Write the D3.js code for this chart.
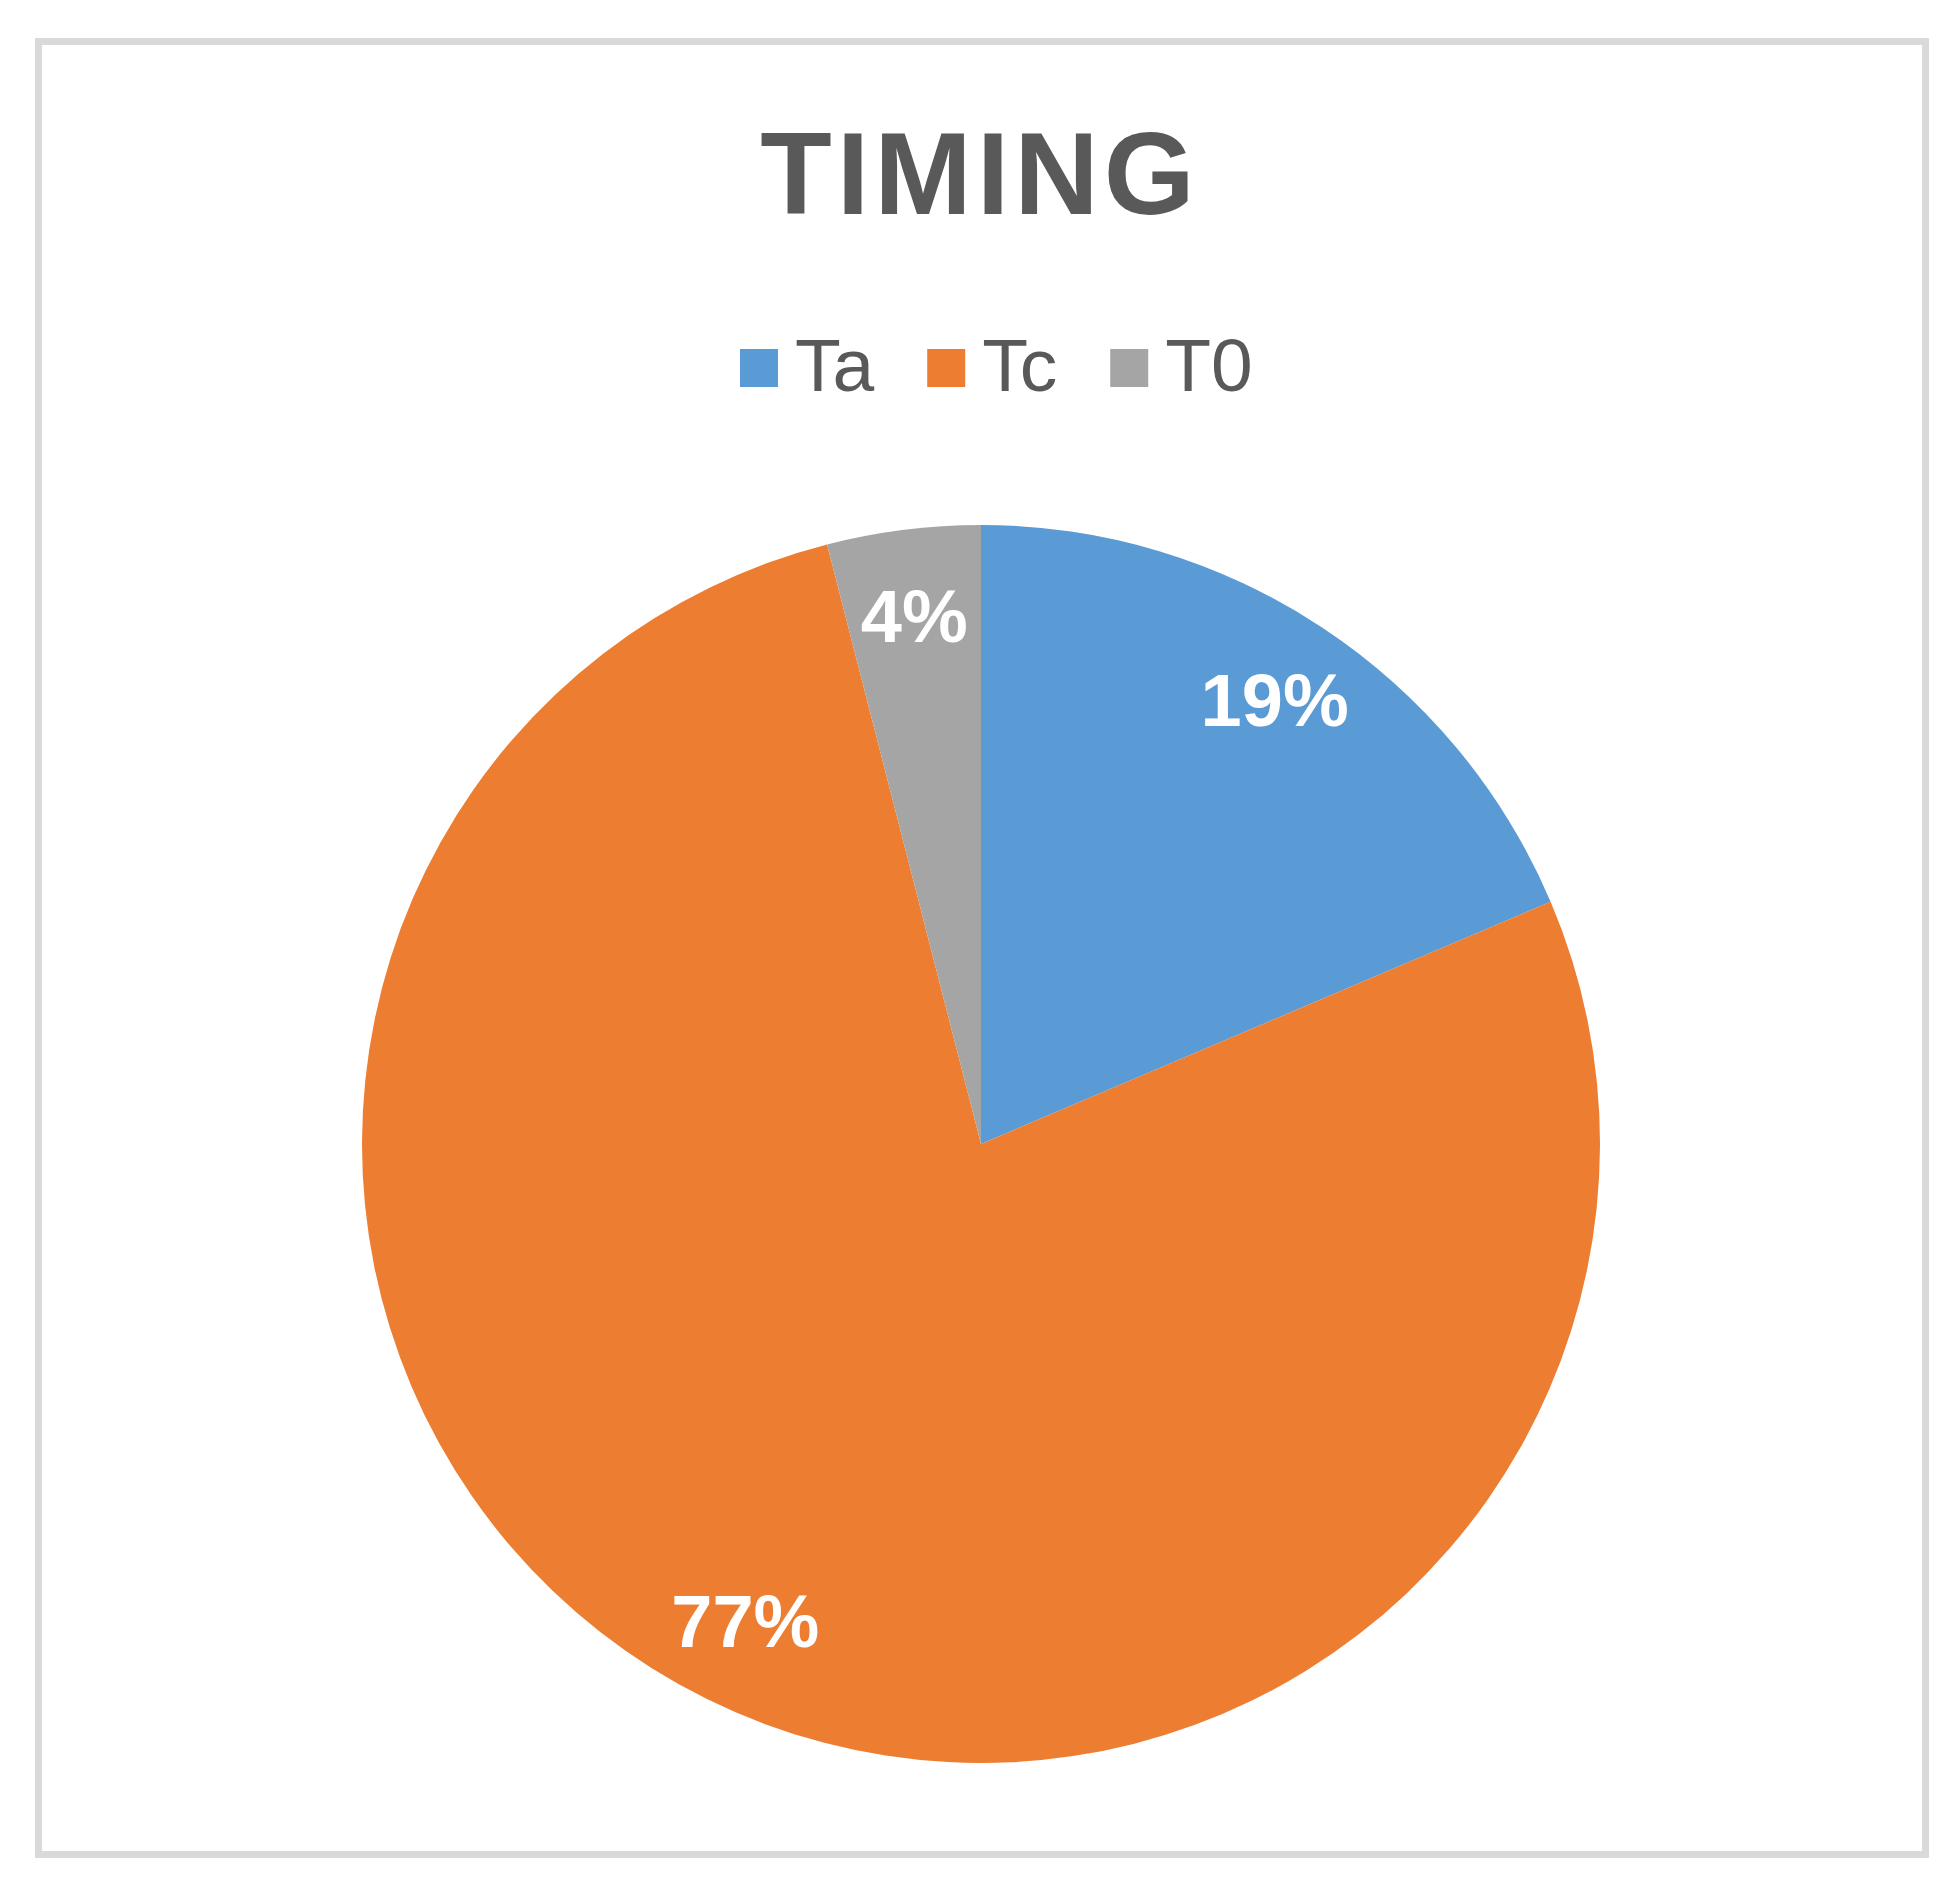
<!DOCTYPE html>
<html>
<head>
<meta charset="utf-8">
<script src="https://cdn.jsdelivr.net/npm/d3@7"></script>
<style>
  html, body { margin: 0; padding: 0; background: #ffffff; }
  svg { display: block; }
</style>
</head>
<body>
<svg id="chart" width="1960" height="1898"></svg>
<script>
const title = "TIMING";
const categories = ["Ta", "Tc", "T0"];
const values = [18.6, 77.4, 4.0];
const colors = ["#5B9BD5", "#ED7D31", "#A5A5A5"];

const W = 1960, H = 1898;
const svg = d3.select("#chart");
const font = "'Liberation Sans', Arial, Helvetica, sans-serif";

// outer frame
svg.append("rect")
  .attr("x", 38.5).attr("y", 41.5)
  .attr("width", 1887).attr("height", 1813)
  .attr("fill", "#ffffff")
  .attr("stroke", "#d9d9d9")
  .attr("stroke-width", 7);

// title
svg.append("text")
  .attr("x", 980).attr("y", 214)
  .attr("text-anchor", "middle")
  .attr("font-family", font)
  .attr("font-weight", "bold")
  .attr("font-size", 117)
  .attr("letter-spacing", 5)
  .attr("fill", "#595959")
  .text(title);

// legend
const legend = svg.append("g");
let lx = 740;
categories.forEach((c, i) => {
  legend.append("rect")
    .attr("x", lx).attr("y", 349)
    .attr("width", 38).attr("height", 38)
    .attr("fill", colors[i]);
  const t = legend.append("text")
    .attr("x", lx + 55).attr("y", 391)
    .attr("font-family", font)
    .attr("font-size", 75)
    .attr("fill", "#595959")
    .text(c);
  const w = t.node().getComputedTextLength();
  lx = lx + 55 + w + 53;
});

// pie
const cx = 981, cy = 1144, R = 619;
const total = d3.sum(values);
const pie = d3.pie().sort(null).value(d => d);
const arcs = pie(values);
const arc = d3.arc().innerRadius(0).outerRadius(R);
const labelArc = d3.arc().innerRadius(R * 0.86).outerRadius(R * 0.86);

const g = svg.append("g").attr("transform", `translate(${cx},${cy})`);
g.selectAll("path.slice")
  .data(arcs)
  .join("path")
  .attr("class", "slice")
  .attr("d", arc)
  .attr("fill", (d, i) => colors[i]);

g.selectAll("text.lbl")
  .data(arcs)
  .join("text")
  .attr("class", "lbl")
  .attr("transform", d => `translate(${labelArc.centroid(d)})`)
  .attr("text-anchor", "middle")
  .attr("dy", "0.35em")
  .attr("font-family", font)
  .attr("font-weight", "bold")
  .attr("font-size", 74)
  .attr("fill", "#ffffff")
  .text(d => Math.round(d.data / total * 100) + "%");
</script>
</body>
</html>
